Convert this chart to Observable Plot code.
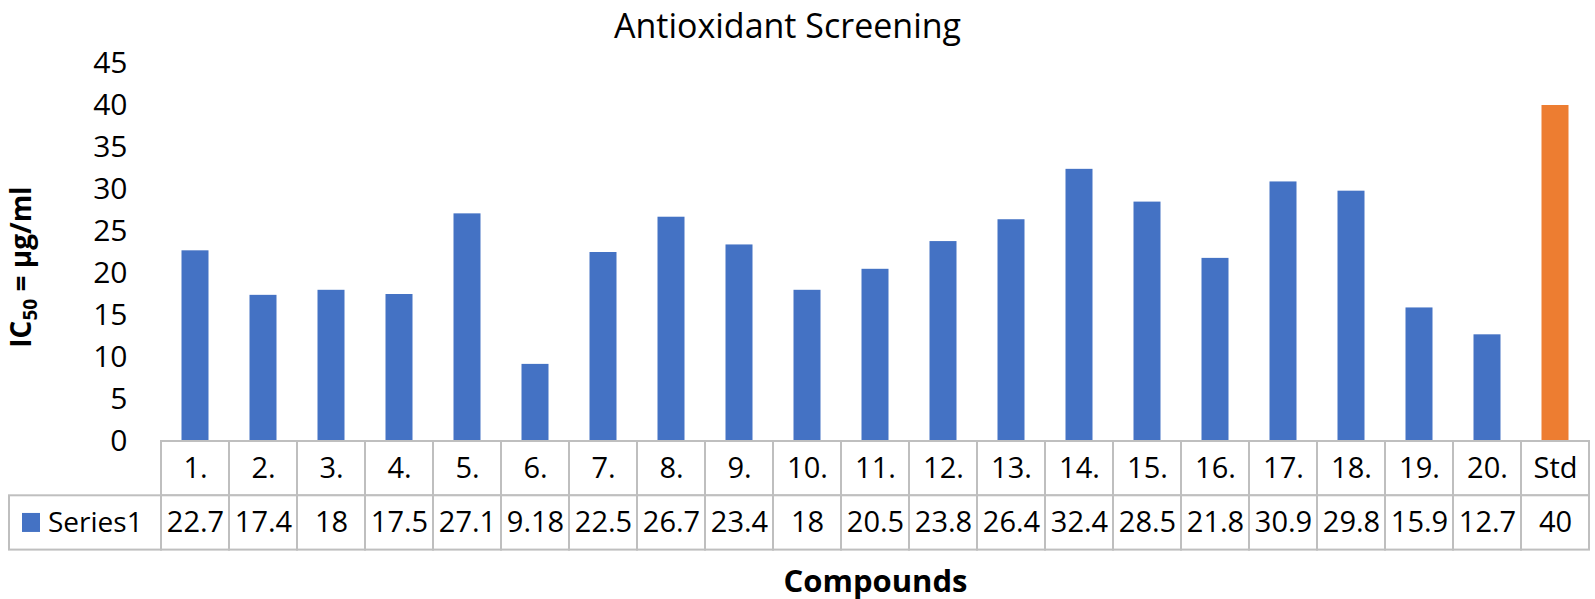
<!DOCTYPE html>
<html><head><meta charset="utf-8">
<script src="https://cdn.jsdelivr.net/npm/d3@7"></script>
<script src="https://cdn.jsdelivr.net/npm/@observablehq/plot@0.6"></script>
<style>body{margin:0;background:#fff} svg{display:block}</style>
</head><body><div id="chart"></div>
<script>
const title = "Antioxidant Screening";
const xLabel = "Compounds";
const seriesName = "Series1";
const categories = ["1.","2.","3.","4.","5.","6.","7.","8.","9.","10.","11.","12.","13.","14.","15.","16.","17.","18.","19.","20.","Std"];
const values = [22.7,17.4,18,17.5,27.1,9.18,22.5,26.7,23.4,18,20.5,23.8,26.4,32.4,28.5,21.8,30.9,29.8,15.9,12.7,40];
const valueLabels = ["22.7","17.4","18","17.5","27.1","9.18","22.5","26.7","23.4","18","20.5","23.8","26.4","32.4","28.5","21.8","30.9","29.8","15.9","12.7","40"];
const groups = ["compound","compound","compound","compound","compound","compound","compound","compound","compound","compound","compound","compound","compound","compound","compound","compound","compound","compound","compound","compound","standard"];
const yTicks = [0,5,10,15,20,25,30,35,40,45];

const data = categories.map((c,i)=>({name:c, value:values[i], label:valueLabels[i], group:groups[i]}));

const W = 1595, H = 599, MT = 63, MB = 158, ML = 157, MR = 2;
const FONT = "'Open Sans', sans-serif";
const pxPerUnit = (H - MT - MB) / 45;
const rowH = 54.3 / pxPerUnit;   // table row height in y units
const BORDER = "#bfbfbf";

const plot = Plot.plot({
  width: W, height: H,
  marginTop: MT, marginBottom: MB, marginLeft: ML, marginRight: MR,
  style: {fontFamily: FONT, fontSize: "29px", color: "#000", background: "#fff", overflow: "visible"},
  x: {type: "band", domain: categories, padding: 0, axis: null},
  y: {domain: [0, 45], axis: null},
  color: {domain: ["compound","standard"], range: ["#4472c4","#ed7d31"]},
  marks: [
    Plot.axisY({ticks: yTicks, tickSize: 0, tickPadding: 30, fontSize: 30, label: null, fill: "#000"}),
    Plot.barY(data, {x: "name", y: "value", fill: "group", insetLeft: 20.5, insetRight: 20.5}),
    // table rows
    Plot.barY(data, {x: "name", y1: -rowH, y2: 0, fill: "white", stroke: BORDER, strokeWidth: 2}),
    Plot.barY(data, {x: "name", y1: -2*rowH, y2: -rowH, fill: "white", stroke: BORDER, strokeWidth: 2}),
    Plot.text(data, {x: "name", y: -rowH/2, text: "name", fontSize: 29, fill: "#000"}),
    Plot.text(data, {x: "name", y: -1.5*rowH, text: "label", fontSize: 29, fill: "#000"}),
    Plot.text([title], {frameAnchor: "top", lineAnchor: "top", dx: -88, dy: -50, fontSize: 34, fill: "#000"}),
    Plot.text([xLabel], {frameAnchor: "bottom", dy: 150, fontSize: 31, fontWeight: "bold", fill: "#000"})
  ]
});

document.getElementById("chart").appendChild(plot);

// legend cell of the data table, positioned from the plot's own scales
const svg = d3.select(plot);
const y = plot.scale("y");
const x = plot.scale("x");
const yTop = y.apply(-rowH), yBot = y.apply(-2*rowH);
const xStart = x.apply(categories[0]);
const g = svg.append("g");
g.append("rect").attr("x", 9).attr("y", yTop).attr("width", xStart - 9).attr("height", yBot - yTop)
  .attr("fill", "white").attr("stroke", BORDER).attr("stroke-width", 2);
g.append("rect").attr("x", 22).attr("y", (yTop+yBot)/2 - 9.5).attr("width", 18).attr("height", 19).attr("fill", "#4472c4");
g.append("text").attr("x", 48).attr("y", (yTop+yBot)/2).attr("dy", "0.35em").attr("text-anchor", "start")
  .attr("font-size", 28).attr("font-family", FONT).attr("fill", "#000").text(seriesName);

// rotated y-axis label with subscript
const yl = svg.append("text").attr("transform", `translate(31,267) rotate(-90)`)
  .attr("text-anchor", "middle").attr("font-family", FONT).attr("font-weight", "bold")
  .attr("font-size", 28).attr("fill", "#000");
yl.append("tspan").text("IC");
yl.append("tspan").attr("font-size", 19).attr("dy", 6).text("50");
yl.append("tspan").attr("dy", -6).text(" = µg/ml");
</script>
</body></html>
